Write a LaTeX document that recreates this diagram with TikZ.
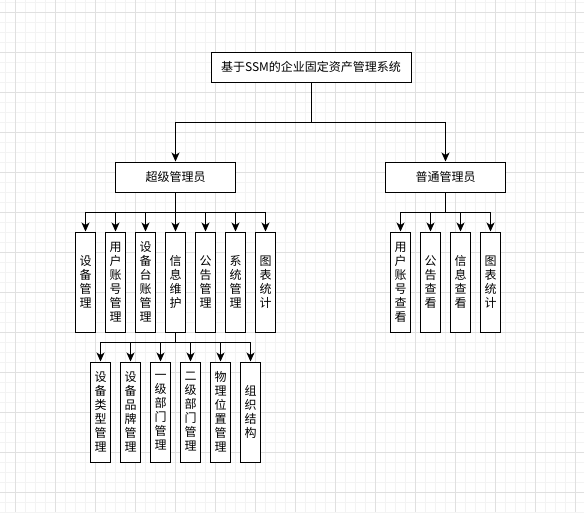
\documentclass[tikz,border=0pt]{standalone}
\usepackage{fontspec}
\setmainfont{Noto Sans CJK SC}
\usetikzlibrary{arrows.meta}
\definecolor{minorgrid}{HTML}{F3F3F3}
\definecolor{majorgrid}{HTML}{E0E0E0}
\tikzset{
  hbox/.style={draw=black, line width=1pt, fill=white, minimum width=120pt, minimum height=30pt, inner sep=0pt, font=\fontsize{12pt}{14pt}\selectfont},
  titlebox/.style={hbox, minimum width=200pt},
  vbox/.style={draw=black, line width=1pt, fill=white, minimum width=20pt, minimum height=100pt, inner sep=0pt, text width=14pt, align=center, font=\fontsize{12pt}{14pt}\selectfont},
  arr/.style={line width=1pt, -{Stealth[length=9pt,width=8pt,inset=2.5pt]}},
  ln/.style={line width=1pt}
}
\begin{document}
\begin{tikzpicture}[x=1pt,y=-1pt]
\useasboundingbox (0,0) rectangle (584,512);
\fill[white] (0,0) rectangle (584,512);
% grid
\foreach \x in {5,15,...,584} \draw[minorgrid, line width=1pt] (\x,0) -- (\x,512);
\foreach \y in {2,12,...,512} \draw[minorgrid, line width=1pt] (0,\y) -- (584,\y);
\foreach \x in {15,55,...,584} \draw[majorgrid, line width=1pt] (\x,0) -- (\x,512);
\foreach \y in {12,52,...,512} \draw[majorgrid, line width=1pt] (0,\y) -- (584,\y);

\coordinate (busA) at (0,122);
\coordinate (busB) at (0,212);
\coordinate (busC) at (0,342);

\node[titlebox] (top) at (311,67) {基于SSM的企业固定资产管理系统};
\node[hbox] (sup) at (175.5,177) {超级管理员};
\node[hbox] (nor) at (445.5,177) {普通管理员};

\node[vbox] (s1) at (85.5,282) {设\\备\\管\\理};
\node[vbox] (s2) at (115.5,282) {用\\户\\账\\号\\管\\理};
\node[vbox] (s3) at (145.5,282) {设\\备\\台\\账\\管\\理};
\node[vbox] (s4) at (175.5,282) {信\\息\\维\\护};
\node[vbox] (s5) at (205.5,282) {公\\告\\管\\理};
\node[vbox] (s6) at (235.5,282) {系\\统\\管\\理};
\node[vbox] (s7) at (265.5,282) {图\\表\\统\\计};

\node[vbox] (n1) at (400.5,282) {用\\户\\账\\号\\查\\看};
\node[vbox] (n2) at (430.5,282) {公\\告\\查\\看};
\node[vbox] (n3) at (460.5,282) {信\\息\\查\\看};
\node[vbox] (n4) at (490.5,282) {图\\表\\统\\计};

\node[vbox] (i1) at (100.5,412) {设\\备\\类\\型\\管\\理};
\node[vbox] (i2) at (130.5,412) {设\\备\\品\\牌\\管\\理};
\node[vbox] (i3) at (160.5,412) {一\\级\\部\\门\\管\\理};
\node[vbox] (i4) at (190.5,412) {二\\级\\部\\门\\管\\理};
\node[vbox] (i5) at (220.5,412) {物\\理\\位\\置\\管\\理};
\node[vbox] (i6) at (250.5,412) {组\\织\\结\\构};

\foreach \t in {sup,nor}
  \draw[arr] (top.south) -- (top.south |- busA) -| (\t.north);
\foreach \t in {s1,s2,s3,s4,s5,s6,s7}
  \draw[arr] (sup.south) -- (sup.south |- busB) -| (\t.north);
\foreach \t in {n1,n2,n3,n4}
  \draw[arr] (nor.south) -- (nor.south |- busB) -| (\t.north);
\foreach \t in {i1,i2,i3,i4,i5,i6}
  \draw[arr] (s4.south) -- (s4.south |- busC) -| (\t.north);
\end{tikzpicture}
\end{document}
